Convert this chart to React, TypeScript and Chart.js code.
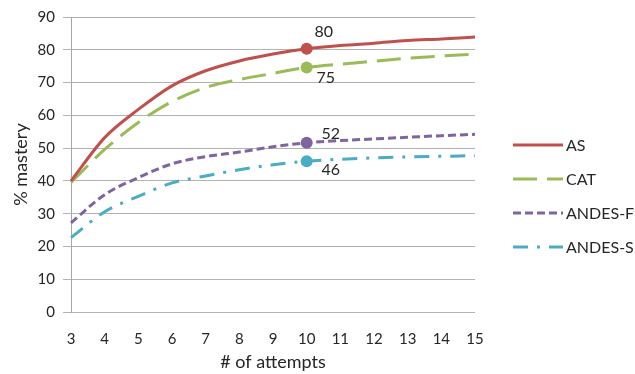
import React, { useEffect, useRef } from "react";
import { Chart, registerables } from "chart.js";

Chart.register(...registerables);

const attempts = ["3", "4", "5", "6", "7", "8", "9", "10", "11", "12", "13", "14", "15"];
const seriesNames = ["AS", "CAT", "ANDES-F", "ANDES-S"];
const asValues = [40, 53.2, 61.8, 69, 73.6, 76.6, 78.7, 80.3, 81.3, 82, 82.8, 83.3, 83.9];
const catValues = [39.5, 49.6, 57.8, 64.2, 68.5, 70.9, 72.8, 74.6, 75.6, 76.5, 77.4, 78.1, 78.7];
const andesFValues = [27.2, 35.8, 41, 45.2, 47.4, 48.8, 50.4, 51.6, 52.3, 52.8, 53.3, 53.8, 54.2];
const andesSValues = [22.7, 30.6, 35.3, 39.4, 41.5, 43.4, 44.9, 46, 46.6, 47, 47.3, 47.5, 47.7];
const highlightIndex = 7;
const highlightLabels = ["80", "75", "52", "46"];
const yTicks = [0, 10, 20, 30, 40, 50, 60, 70, 80, 90];

const FONT = "Lato, 'Open Sans', sans-serif";
const TEXT = "#262626";
const colors = ["#C0504D", "#9BBB59", "#8064A2", "#4BACC6"];
const dashes: number[][] = [[], [24, 10], [8, 4], [15, 9, 3, 9]];
const labelOffsets = [
  [17, -17],
  [19, 10],
  [24, -9],
  [24, 9],
];

const highlightPlugin = {
  id: "highlightLabels",
  afterDatasetsDraw(chart: any) {
    const ctx = chart.ctx;
    ctx.save();
    ctx.font = `16px ${FONT}`;
    ctx.fillStyle = TEXT;
    ctx.textAlign = "center";
    ctx.textBaseline = "middle";
    chart.data.datasets.forEach((ds: any, i: number) => {
      const meta = chart.getDatasetMeta(i);
      const pt = meta.data[highlightIndex];
      if (!pt) return;
      ctx.fillText(highlightLabels[i], pt.x + labelOffsets[i][0], pt.y + labelOffsets[i][1]);
    });
    ctx.restore();
  },
};

const legendPlugin = {
  id: "customLegend",
  afterDraw(chart: any) {
    const ctx = chart.ctx;
    const x0 = chart.chartArea.right + 38;
    const lineLen = 50;
    const startY = 145;
    const gap = 34;
    ctx.save();
    ctx.font = `16px ${FONT}`;
    ctx.textBaseline = "middle";
    ctx.textAlign = "left";
    chart.data.datasets.forEach((ds: any, i: number) => {
      const y = startY + i * gap;
      ctx.beginPath();
      ctx.strokeStyle = ds.borderColor;
      ctx.lineWidth = ds.borderWidth;
      ctx.setLineDash(ds.borderDash || []);
      ctx.lineCap = "butt";
      ctx.moveTo(x0, y);
      ctx.lineTo(x0 + lineLen, y);
      ctx.stroke();
      ctx.setLineDash([]);
      ctx.fillStyle = TEXT;
      ctx.fillText(ds.label, x0 + lineLen + 3, y + 1);
    });
    ctx.restore();
  },
};

export default function App() {
  const ref = useRef<HTMLCanvasElement | null>(null);

  useEffect(() => {
    if (!ref.current) return;
    const all = [asValues, catValues, andesFValues, andesSValues];
    const chart = new Chart(ref.current, {
      type: "line",
      data: {
        labels: attempts,
        datasets: all.map((vals, i) => ({
          label: seriesNames[i],
          data: vals,
          borderColor: colors[i],
          backgroundColor: colors[i],
          borderWidth: 3,
          borderDash: dashes[i],
          tension: 0.4,
          cubicInterpolationMode: "monotone" as const,
          fill: false,
          pointRadius: vals.map((_, j) => (j === highlightIndex ? 6 : 0)),
          pointHoverRadius: 0,
          pointBorderWidth: 0,
          pointBackgroundColor: colors[i],
        })),
      },
      options: {
        animation: false,
        responsive: false,
        maintainAspectRatio: false,
        events: [],
        layout: { padding: { top: 16, right: 160, left: 0, bottom: 0 } },
        plugins: {
          legend: { display: false },
          tooltip: { enabled: false },
        },
        scales: {
          x: {
            type: "category",
            offset: false,
            grid: { display: false, drawTicks: false },
            border: { display: false },
            ticks: {
              color: TEXT,
              font: { family: FONT, size: 15 },
              padding: 18,
              maxRotation: 0,
              autoSkip: false,
            },
            title: {
              display: true,
              text: "# of attempts",
              color: TEXT,
              font: { family: FONT, size: 18 },
              padding: { top: 0, bottom: 1 },
            },
            afterFit(scale: any) {
              scale.height = 62;
            },
          },
          y: {
            min: 0,
            max: 90,
            afterBuildTicks(scale: any) {
              scale.ticks = yTicks.map((v) => ({ value: v }));
            },
            grid: {
              color: "#B3B3B3",
              lineWidth: 1,
              tickLength: 8,
              drawTicks: true,
            },
            border: { display: true, color: "#A6A6A6", width: 1 },
            ticks: {
              color: TEXT,
              font: { family: FONT, size: 15 },
              padding: 8,
            },
            title: {
              display: true,
              text: "% mastery",
              color: TEXT,
              font: { family: FONT, size: 18 },
              padding: { top: 10, bottom: 0 },
            },
            afterFit(scale: any) {
              scale.width = 71;
            },
          },
        },
      },
      plugins: [highlightPlugin, legendPlugin],
    });
    return () => chart.destroy();
  }, []);

  return (
    <div style={{ position: "absolute", left: 0, top: 0, width: 635, height: 374, background: "#fff" }}>
      <canvas ref={ref} width={635} height={374} style={{ width: 635, height: 374 }} />
    </div>
  );
}
